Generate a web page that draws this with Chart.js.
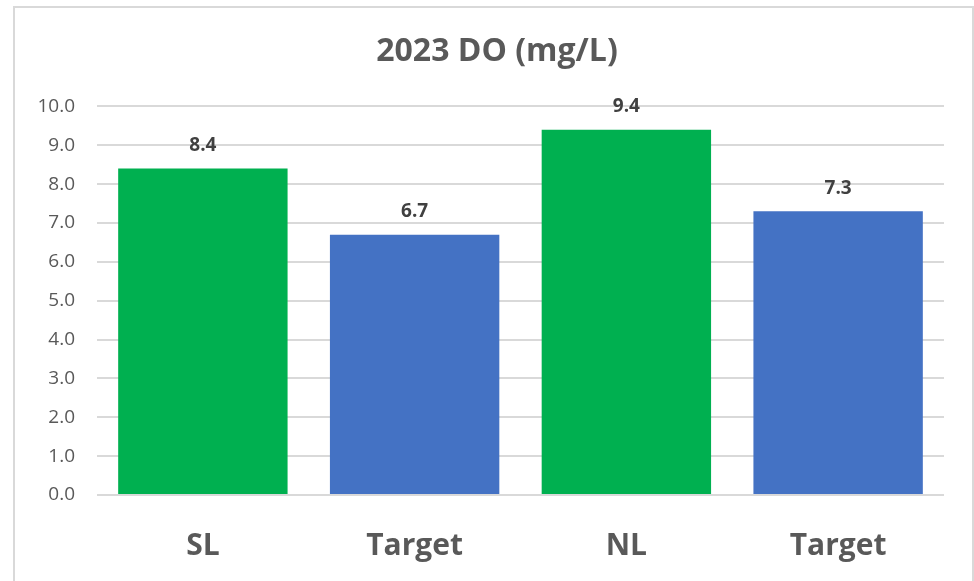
<!DOCTYPE html>
<html>
<head>
<meta charset="utf-8">
<script src="https://cdn.jsdelivr.net/npm/chart.js@4/dist/chart.umd.min.js"></script>
<style>
  html, body { margin: 0; padding: 0; background: #fff; }
  #wrap { position: relative; width: 974px; height: 581px; overflow: hidden; }
  #frame {
    position: absolute; left: 13px; top: 6px; width: 961px; height: 600px;
    box-sizing: border-box; border: 2px solid #d9d9d9; pointer-events: none;
  }
</style>
</head>
<body>
<div id="wrap">
  <canvas id="doChart" width="974" height="581"></canvas>
  <div id="frame"></div>
</div>
<script>
const categories = ["SL", "Target", "NL", "Target"];
const doValues = [8.4, 6.7, 9.4, 7.3];
const barColors = ["#00b050", "#4472c4", "#00b050", "#4472c4"];
const yTicks = { min: 0, max: 10, step: 1 };

const FONT = "'Open Sans', sans-serif";
const TEXT = "#595959";

// value labels above each bar
const barValueLabels = {
  id: "barValueLabels",
  afterDatasetsDraw(chart) {
    const { ctx } = chart;
    const meta = chart.getDatasetMeta(0);
    ctx.save();
    ctx.font = `bold 19px ${FONT}`;
    ctx.fillStyle = "#404040";
    ctx.textAlign = "center";
    ctx.textBaseline = "middle";
    meta.data.forEach((bar, i) => {
      ctx.fillText(doValues[i].toFixed(1), bar.x, bar.y - 23);
    });
    ctx.restore();
  },
};

new Chart(document.getElementById("doChart"), {
  type: "bar",
  data: {
    labels: categories,
    datasets: [
      {
        label: "DO",
        data: doValues,
        backgroundColor: barColors,
        borderWidth: 0,
        categoryPercentage: 0.8,
        barPercentage: 1,
      },
    ],
  },
  options: {
    responsive: false,
    animation: false,
    layout: { padding: { left: 20, right: 0, top: 0, bottom: 0 } },
    plugins: {
      legend: { display: false },
      tooltip: { enabled: false },
      title: {
        display: true,
        text: "2023 DO (mg/L)",
        color: TEXT,
        font: { family: FONT, size: 32, weight: "bold", lineHeight: 1.2 },
        padding: { top: 33, bottom: 35 },
      },
    },
    scales: {
      x: {
        grid: { display: false },
        border: { display: false },
        ticks: {
          color: TEXT,
          padding: 25,
          font: { family: FONT, size: 30, weight: "bold" },
        },
        afterFit(scale) { scale.height = 86; },
      },
      y: {
        min: yTicks.min,
        max: yTicks.max,
        border: { display: false },
        grid: { color: "#d9d9d9", lineWidth: 2, drawTicks: false },
        ticks: {
          stepSize: yTicks.step,
          color: TEXT,
          padding: 22,
          font: { family: FONT, size: 19 },
          callback: v => Number(v).toFixed(1),
        },
        afterFit(scale) { scale.width = 77; },
      },
      // empty right-hand axis, only to leave the white margin right of the plot
      yRight: {
        position: "right",
        min: yTicks.min,
        max: yTicks.max,
        grid: { display: false },
        border: { display: false },
        ticks: { display: false },
        afterFit(scale) { scale.width = 30; },
      },
    },
  },
  plugins: [barValueLabels],
});
</script>
</body>
</html>
